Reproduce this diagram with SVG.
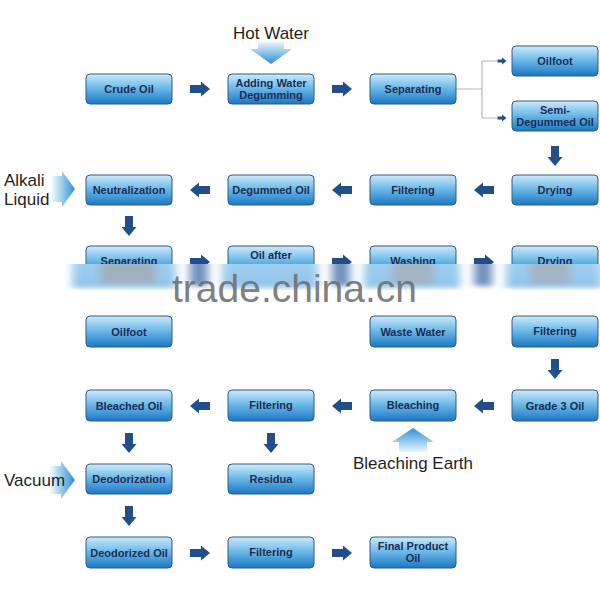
<svg xmlns="http://www.w3.org/2000/svg" width="600" height="600" viewBox="0 0 600 600">
<defs>
<style>
.box{fill:url(#boxg);stroke:#34597f;stroke-width:1}
.t{font-family:"Liberation Sans",Arial,sans-serif;font-size:11px;font-weight:bold;fill:#1b2d56;text-anchor:middle}
.lab{font-family:"Liberation Sans",Arial,sans-serif;font-size:17px;fill:#1e1e1e}
.arr{fill:#214f8c}
.br{fill:none;stroke:#aeb6bf;stroke-width:1.2}
</style>
<linearGradient id="boxg" x1="0" y1="0" x2="0" y2="1">
<stop offset="0" stop-color="#cdeafa"/>
<stop offset="0.45" stop-color="#6fbbe9"/>
<stop offset="1" stop-color="#1b77c3"/>
</linearGradient>
<linearGradient id="gdown" x1="0" y1="0" x2="0" y2="1">
<stop offset="0" stop-color="#eaf6fd"/>
<stop offset="1" stop-color="#2b90d5"/>
</linearGradient>
<linearGradient id="gup" x1="0" y1="0" x2="0" y2="1">
<stop offset="0" stop-color="#2b90d5"/>
<stop offset="1" stop-color="#eaf6fd"/>
</linearGradient>
<linearGradient id="gright" x1="0" y1="0" x2="1" y2="0">
<stop offset="0" stop-color="#f2f9fe"/>
<stop offset="1" stop-color="#2b90d5"/>
</linearGradient>
<linearGradient id="smg" x1="0" y1="0" x2="0" y2="1">
<stop offset="0" stop-color="#8cc6ee"/>
<stop offset="1" stop-color="#76b6e4"/>
</linearGradient>
<path id="ar" d="M-10,-4 H1 V-7.5 L10,0 L1,7.5 V4 H-10 Z"/>
<path id="al" d="M10,-4 H-1 V-7.5 L-10,0 L-1,7.5 V4 H10 Z"/>
<path id="ad" d="M-4,-10 V1 H-7.5 L0,10 L7.5,1 H4 V-10 Z"/>
<path id="as" d="M-4.5,-1.5 H0 V-3.5 L4.5,0 L0,3.5 V1.5 H-4.5 Z"/>
<clipPath id="clipTop"><rect x="0" y="0" width="600" height="264"/></clipPath>
<clipPath id="clipBand"><rect x="0" y="264" width="600" height="26"/></clipPath>
<filter id="smear" x="-0.2" y="-0.5" width="1.4" height="2"><feGaussianBlur stdDeviation="4 2.5"/></filter>
</defs>
<rect width="600" height="600" fill="#ffffff"/>

<!-- input labels -->
<g id="in-hotwater">
<text class="lab" x="271" y="39" text-anchor="middle">Hot Water</text>
<path d="M258,42 H284 V49 H292 L271,64 L250,49 H258 Z" fill="url(#gdown)"/>
</g>
<g id="in-alkali">
<path d="M52,176 H62 V171 L75,189 L62,207 V202 H52 Z" fill="url(#gright)"/>
<text class="lab" x="4" y="186">Alkali</text>
<text class="lab" x="4" y="205">Liquid</text>
</g>
<g id="in-vacuum">
<path d="M50,466 H61 V461 L75,480 L61,499 V494 H50 Z" fill="url(#gright)"/>
<text class="lab" x="4" y="486">Vacuum</text>
</g>
<g id="in-bleachearth">
<path d="M413,428 L434,442 H427 V452 H399 V442 H392 Z" fill="url(#gup)"/>
<text class="lab" x="413" y="469" text-anchor="middle">Bleaching Earth</text>
</g>

<!-- connectors -->
<g id="connectors">
<path class="br" d="M456,89 H482 M482,61 V118 M482,61 H497 M482,118 H497"/>
<use href="#as" x="502" y="61" class="arr"/>
<use href="#as" x="502" y="118" class="arr"/>
<use href="#ar" x="200" y="89" class="arr"/>
<use href="#ar" x="342" y="89" class="arr"/>
<use href="#ad" x="555" y="156" class="arr"/>
<use href="#al" x="484" y="190" class="arr"/>
<use href="#al" x="342" y="190" class="arr"/>
<use href="#al" x="200" y="190" class="arr"/>
<use href="#ad" x="129" y="226" class="arr"/>
<g clip-path="url(#clipTop)">
<use href="#ar" x="200" y="262" class="arr"/>
<use href="#ar" x="342" y="262" class="arr"/>
<use href="#ar" x="484" y="262" class="arr"/>
</g>
<use href="#ad" x="555" y="369" class="arr"/>
<use href="#al" x="484" y="406" class="arr"/>
<use href="#al" x="342" y="406" class="arr"/>
<use href="#al" x="200" y="406" class="arr"/>
<use href="#ad" x="129" y="443" class="arr"/>
<use href="#ad" x="271" y="443" class="arr"/>
<use href="#ad" x="129" y="516" class="arr"/>
<use href="#ar" x="200" y="553" class="arr"/>
<use href="#ar" x="342" y="553" class="arr"/>
</g>

<!-- row 1 -->
<g id="n-crude"><rect class="box" x="86" y="74" width="86" height="30" rx="4"/><text class="t" x="129" y="93">Crude Oil</text></g>
<g id="n-adding"><rect class="box" x="228" y="74" width="86" height="30" rx="4"/><text class="t" x="271" y="87">Adding Water</text><text class="t" x="271" y="99">Degumming</text></g>
<g id="n-sep1"><rect class="box" x="370" y="74" width="86" height="30" rx="4"/><text class="t" x="413" y="93">Separating</text></g>
<g id="n-oilfoot1"><rect class="box" x="512" y="46" width="86" height="30" rx="4"/><text class="t" x="555" y="65">Oilfoot</text></g>
<g id="n-semi"><rect class="box" x="512" y="101" width="86" height="30" rx="4"/><text class="t" x="555" y="114">Semi-</text><text class="t" x="555" y="126">Degummed Oil</text></g>

<!-- row 2 -->
<g id="n-neutral"><rect class="box" x="86" y="175" width="86" height="30" rx="4"/><text class="t" x="129" y="194">Neutralization</text></g>
<g id="n-degummed"><rect class="box" x="228" y="175" width="86" height="30" rx="4"/><text class="t" x="271" y="194">Degummed Oil</text></g>
<g id="n-filter1"><rect class="box" x="370" y="175" width="86" height="30" rx="4"/><text class="t" x="413" y="194">Filtering</text></g>
<g id="n-dry1"><rect class="box" x="512" y="175" width="86" height="30" rx="4"/><text class="t" x="555" y="194">Drying</text></g>

<!-- row 3 (cut by watermark band) -->
<g id="n-sep2" clip-path="url(#clipTop)"><rect class="box" x="86" y="246" width="86" height="31" rx="4"/><text class="t" x="129" y="265">Separating</text></g>
<g id="n-oilafter" clip-path="url(#clipTop)"><rect class="box" x="228" y="246" width="86" height="31" rx="4"/><text class="t" x="271" y="259">Oil after</text></g>
<g id="n-washing" clip-path="url(#clipTop)"><rect class="box" x="370" y="246" width="86" height="31" rx="4"/><text class="t" x="413" y="265">Washing</text></g>
<g id="n-dry2" clip-path="url(#clipTop)"><rect class="box" x="512" y="246" width="86" height="31" rx="4"/><text class="t" x="555" y="265">Drying</text></g>

<!-- smeared band -->
<g clip-path="url(#clipBand)">
<g filter="url(#smear)" opacity="0.8">
<rect x="72" y="258" width="104" height="30" fill="url(#smg)"/>
<rect x="100" y="262" width="56" height="22" fill="#8a9db0"/>
<rect x="222" y="258" width="96" height="30" fill="url(#smg)"/>
<rect x="364" y="258" width="96" height="30" fill="url(#smg)"/>
<rect x="392" y="262" width="42" height="22" fill="#8ba1b6"/>
<rect x="506" y="258" width="96" height="30" fill="url(#smg)"/>
<rect x="530" y="262" width="40" height="22" fill="#8ba1b6"/>
<rect x="190" y="258" width="18" height="28" fill="#5077ae"/>
<rect x="332" y="258" width="18" height="28" fill="#5077ae"/>
<rect x="474" y="258" width="18" height="28" fill="#5077ae"/>
</g>
</g>
<text x="172" y="302" font-family="'Liberation Sans',Arial,sans-serif" font-size="39" fill="#6e6e6e" fill-opacity="0.9">trade.china.cn</text>

<!-- row 4 -->
<g id="n-oilfoot2"><rect class="box" x="86" y="316" width="86" height="31" rx="4"/><text class="t" x="129" y="336">Oilfoot</text></g>
<g id="n-waste"><rect class="box" x="370" y="316" width="86" height="31" rx="4"/><text class="t" x="413" y="336">Waste Water</text></g>
<g id="n-filter2"><rect class="box" x="512" y="316" width="86" height="31" rx="4"/><text class="t" x="555" y="335">Filtering</text></g>

<!-- row 5 -->
<g id="n-bleached"><rect class="box" x="86" y="390" width="86" height="31" rx="4"/><text class="t" x="129" y="410">Bleached Oil</text></g>
<g id="n-filter3"><rect class="box" x="228" y="390" width="86" height="31" rx="4"/><text class="t" x="271" y="409">Filtering</text></g>
<g id="n-bleaching"><rect class="box" x="370" y="390" width="86" height="31" rx="4"/><text class="t" x="413" y="409">Bleaching</text></g>
<g id="n-grade3"><rect class="box" x="512" y="390" width="86" height="31" rx="4"/><text class="t" x="555" y="410">Grade 3 Oil</text></g>

<!-- row 6 -->
<g id="n-deodorization"><rect class="box" x="86" y="464" width="86" height="30" rx="4"/><text class="t" x="129" y="483">Deodorization</text></g>
<g id="n-residua"><rect class="box" x="228" y="464" width="86" height="30" rx="4"/><text class="t" x="271" y="483">Residua</text></g>

<!-- row 7 -->
<g id="n-deodorized"><rect class="box" x="86" y="537" width="86" height="31" rx="4"/><text class="t" x="129" y="557">Deodorized Oil</text></g>
<g id="n-filter4"><rect class="box" x="228" y="537" width="86" height="31" rx="4"/><text class="t" x="271" y="556">Filtering</text></g>
<g id="n-final"><rect class="box" x="370" y="537" width="86" height="31" rx="4"/><text class="t" x="413" y="550">Final Product</text><text class="t" x="413" y="562">Oil</text></g>
</svg>
